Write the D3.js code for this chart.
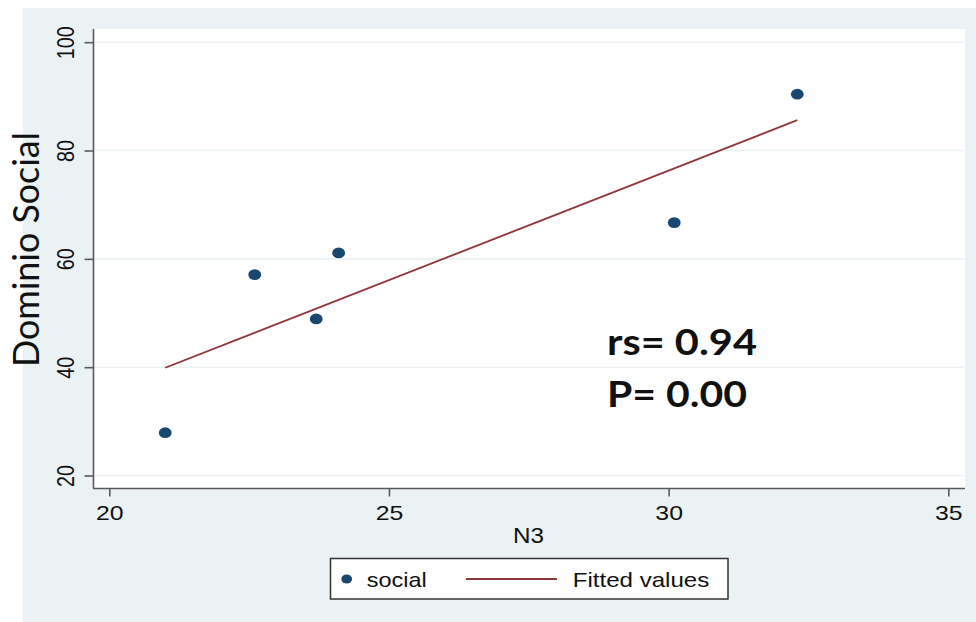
<!DOCTYPE html>
<html>
<head>
<meta charset="utf-8">
<script src="https://cdn.jsdelivr.net/npm/d3@7"></script>
<style>
  html, body { margin: 0; padding: 0; background: #ffffff; }
  svg { display: block; }
</style>
</head>
<body>
<svg id="chart" width="976" height="622"></svg>
<script>
// ---- data ----
const n3Values     = [21.0, 22.6, 23.7, 24.1, 30.1, 32.3];
const socialValues = [27.9, 57.1, 48.9, 61.1, 66.7, 90.4];
const fittedN3     = [21.0, 32.3];
const fittedSocial = [39.9, 85.6];
const xTickValues  = [20, 25, 30, 35];
const yTickValues  = [20, 40, 60, 80, 100];
const xTitle = "N3";
const yTitle = "Dominio Social";
const legendLabels = ["social", "Fitted values"];
const annotations = ["rs= 0.94", "P= 0.00"];

// ---- styling ----
const bg = "#eaf2f3";
const gridColor = "#eaf2f3";
const pointColor = "#1a476f";
const lineColor = "#90353b";
const axisColor = "#5a5a5a";
const sansFont = "'Liberation Sans', Arial, Helvetica, sans-serif";
const titleFont = "Lato, 'Open Sans', sans-serif";

const svg = d3.select("#chart");

// outer graph region
svg.append("rect").attr("x", 23).attr("y", 8).attr("width", 976 - 23).attr("height", 622 - 8).attr("fill", bg);

// plot region
const plot = { left: 93, top: 29, right: 965, bottom: 488.5 };
svg.append("rect").attr("x", plot.left).attr("y", plot.top)
  .attr("width", plot.right - plot.left).attr("height", plot.bottom - plot.top).attr("fill", "#ffffff");

const x = d3.scaleLinear().domain([20, 35]).range([109.3, 948.3]);
const y = d3.scaleLinear().domain([20, 100]).range([475.5, 42.2]);

// gridlines
svg.append("g").selectAll("line").data(yTickValues).join("line")
  .attr("x1", plot.left + 1).attr("x2", plot.right - 1)
  .attr("y1", d => y(d)).attr("y2", d => y(d))
  .attr("stroke", gridColor).attr("stroke-width", 1.6);

// x axis
const xAxisG = svg.append("g").attr("transform", `translate(0,${plot.bottom})`)
  .call(d3.axisBottom(x).tickValues(xTickValues).tickSize(8).tickSizeOuter(0).tickFormat(d3.format("d")));
xAxisG.select(".domain").attr("d", `M${plot.left},0H${plot.right}`).attr("stroke", axisColor).attr("stroke-width", 1.6);
xAxisG.selectAll(".tick line").attr("stroke", axisColor).attr("stroke-width", 1.6);
xAxisG.selectAll(".tick text")
  .attr("y", 31.5).attr("dy", null)
  .attr("font-family", sansFont).attr("font-size", 21).attr("fill", "#111")
  .attr("textLength", d => String(d).length * 13.8).attr("lengthAdjust", "spacingAndGlyphs");

// y axis
const yAxisG = svg.append("g").attr("transform", `translate(${plot.left + 0.5},0)`)
  .call(d3.axisLeft(y).tickValues(yTickValues).tickSize(9).tickSizeOuter(0).tickFormat(d3.format("d")));
yAxisG.select(".domain").attr("d", `M0,${plot.top}V${plot.bottom}`).attr("stroke", axisColor).attr("stroke-width", 1.6);
yAxisG.selectAll(".tick line").attr("stroke", axisColor).attr("stroke-width", 1.6);
yAxisG.selectAll(".tick text")
  .attr("x", null).attr("dy", null)
  .attr("transform", "translate(-19.5,0) rotate(-90)")
  .attr("text-anchor", "middle")
  .attr("font-family", sansFont).attr("font-size", 23).attr("fill", "#111")
  .attr("textLength", d => String(d).length * 11).attr("lengthAdjust", "spacingAndGlyphs");
yAxisG.attr("font-family", sansFont);

// fitted line
const fitData = fittedN3.map((v, i) => [v, fittedSocial[i]]);
svg.append("path").datum(fitData)
  .attr("d", d3.line().x(d => x(d[0])).y(d => y(d[1])))
  .attr("fill", "none").attr("stroke", lineColor).attr("stroke-width", 1.8);

// points
const pts = n3Values.map((v, i) => [v, socialValues[i]]);
svg.append("g").selectAll("ellipse").data(pts).join("ellipse")
  .attr("cx", d => x(d[0])).attr("cy", d => y(d[1]))
  .attr("rx", 6.4).attr("ry", 5.4).attr("fill", pointColor);

// axis titles
svg.append("text").text(xTitle)
  .attr("x", 528.5).attr("y", 542.7).attr("text-anchor", "middle")
  .attr("font-family", sansFont).attr("font-size", 22).attr("fill", "#111")
  .attr("textLength", 31).attr("lengthAdjust", "spacingAndGlyphs");

svg.append("text").text(yTitle)
  .attr("transform", "translate(39,249.5) rotate(-90)").attr("text-anchor", "middle")
  .attr("font-family", titleFont).attr("font-size", 36).attr("fill", "#111")
  .attr("textLength", 235).attr("lengthAdjust", "spacingAndGlyphs");

// annotations
svg.append("text").text(annotations[0])
  .attr("x", 607).attr("y", 355)
  .attr("font-family", titleFont).attr("font-weight", "bold").attr("font-size", 37).attr("fill", "#111")
  .attr("textLength", 150).attr("lengthAdjust", "spacingAndGlyphs");
svg.append("text").text(annotations[1])
  .attr("x", 607).attr("y", 407.3)
  .attr("font-family", titleFont).attr("font-weight", "bold").attr("font-size", 36).attr("fill", "#111")
  .attr("textLength", 140).attr("lengthAdjust", "spacingAndGlyphs");

// legend
const legend = svg.append("g");
legend.append("rect").attr("x", 330.5).attr("y", 558.5).attr("width", 397.5).attr("height", 40.5)
  .attr("fill", "#ffffff").attr("stroke", "#333").attr("stroke-width", 1.5);
legend.append("ellipse").attr("cx", 346.7).attr("cy", 579).attr("rx", 5.4).attr("ry", 4.6).attr("fill", pointColor);
legend.append("text").text(legendLabels[0]).attr("x", 366.7).attr("y", 587.3)
  .attr("font-family", sansFont).attr("font-size", 21).attr("fill", "#111")
  .attr("textLength", 60).attr("lengthAdjust", "spacingAndGlyphs");
legend.append("line").attr("x1", 466).attr("x2", 557).attr("y1", 579).attr("y2", 579)
  .attr("stroke", lineColor).attr("stroke-width", 1.8);
legend.append("text").text(legendLabels[1]).attr("x", 572.7).attr("y", 587.3)
  .attr("font-family", sansFont).attr("font-size", 21).attr("fill", "#111")
  .attr("textLength", 136.6).attr("lengthAdjust", "spacingAndGlyphs");
</script>
</body>
</html>
